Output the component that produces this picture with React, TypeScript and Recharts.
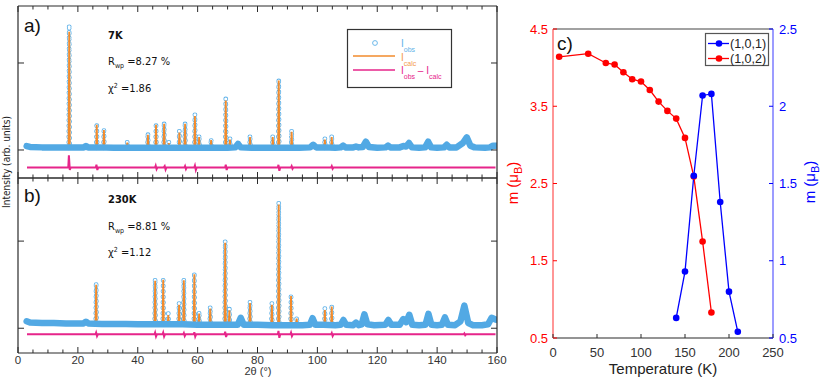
import React from 'react';
import { ComposedChart, Line, XAxis, YAxis } from 'recharts';

// ---------- panels a) and b): powder patterns ----------
// observed background band (2θ, intensity), 7 K
const bgA: [number, number][] = [
  [2.9, 4.5], [4, 3.5], [8, 3], [12, 3], [16, 3], [20, 3], [22, 3], [22.7, 4.5], [23.4, 3],
  [27, 3], [32, 2.5], [36, 2.5], [40, 2.5], [45, 2.5], [50, 2.5], [55, 2.5], [60, 2.5],
  [65, 2.5], [70, 2.5], [72.6, 3], [73.5, 7], [74.4, 3], [78, 2.5], [82, 2.5], [86, 2.5],
  [90, 2.5], [94, 2.5], [97.6, 3], [98.6, 6], [99.6, 3], [102, 3], [106, 2.5], [107.8, 3],
  [108.6, 5], [109.4, 3], [112, 3], [112.9, 4], [113.8, 3], [115.2, 3.5], [116.2, 9.5],
  [117.2, 3.5], [120, 2.5], [122.8, 3], [123.6, 5], [124.4, 3], [127.5, 3], [128.7, 4.5],
  [129.6, 4], [130.6, 8], [131.6, 3], [134, 2.5], [136, 3], [137, 9.5], [138, 3], [140, 2.5],
  [142.3, 3], [143.2, 6], [144.1, 3], [146.5, 3], [148.6, 8], [149.9, 14.5], [151.1, 5],
  [152.5, 3], [156, 2.5], [157.7, 3], [158.7, 5], [159.5, 5],
];
// sharp reflections: 2θ, observed top, calculated top
const peaksA: [number, number, number][] = [
  [17.1, 144, 136], [26.3, 31, 29], [28.7, 25, 23], [36.5, 10, 8.5], [43.4, 19.5, 17.5],
  [46.1, 31, 29], [48.8, 32, 30], [50.4, 9, 8], [53.9, 22, 20], [55.8, 32, 30],
  [59.1, 41, 39], [60.5, 17, 15], [64.5, 13, 11.5], [69.4, 59, 57], [70.8, 14, 12],
  [77.5, 17, 15], [85.1, 17, 15], [87.1, 82, 80], [91.4, 23, 21], [102.5, 14, 12],
  [104.8, 17, 15],
];
const diffA: [number, number][] = [
  [3, -20], [16.8, -20], [17.0, -6], [17.3, -23], [17.6, -20], [26.0, -20], [26.2, -17],
  [26.5, -23], [26.8, -20], [45.8, -20], [46, -18], [46.3, -22], [46.6, -20], [48.7, -20],
  [49, -18.5], [49.3, -22.5], [49.6, -20], [55.6, -20], [55.8, -18.5], [56.1, -22],
  [56.4, -20], [58.9, -20], [59.1, -18], [59.4, -23], [59.7, -20], [69.2, -20], [69.4, -17],
  [69.7, -23], [70, -20], [86.8, -20], [87, -17], [87.3, -24], [87.6, -20], [91.2, -20],
  [91.4, -18.5], [91.7, -21.5], [92, -20], [104.6, -20], [104.8, -18.5], [105.1, -21.5],
  [105.4, -20], [159.5, -20],
];
const baseA = 2.5;

// 230 K
const bgB: [number, number][] = [
  [2.9, 8], [4, 6.5], [8, 6], [12, 6], [16, 5.5], [20, 5.5], [21.9, 5.5], [22.7, 7.5],
  [23.5, 5.5], [28, 5], [32, 5], [36, 5], [40, 4.5], [45, 4.5], [50, 4.5], [55, 4.5],
  [60, 4], [65, 4], [70, 4], [73.4, 4], [74.4, 12], [75.4, 4], [80, 4], [85, 3.5], [90, 3.5],
  [95, 3.5], [97.5, 4], [98.4, 11.5], [99.3, 4], [102, 4], [106, 3.5], [107.8, 4],
  [108.7, 9.5], [109.6, 4], [112, 3.5], [112.9, 6.5], [113.8, 3.5], [114.8, 4.5],
  [115.7, 16], [116.7, 4.5], [119, 3.5], [122.7, 4], [123.7, 9.5], [124.7, 4], [127.5, 4],
  [128.7, 10.5], [129.7, 7], [130.7, 15.5], [131.7, 4], [134, 3.5], [136.1, 4],
  [137.1, 16.5], [138.1, 4], [140, 3.5], [141.6, 4], [142.6, 12.5], [143.6, 4], [146, 3.5],
  [147.8, 8], [149.1, 26], [150.4, 6], [152, 3.5], [155, 3.5], [157, 4.5], [158.2, 12],
  [159.5, 10],
];
const peaksB: [number, number, number][] = [
  [26.1, 52.5, 50], [45.8, 57, 54.5], [48.5, 58, 55.5], [50.2, 17, 15], [53.8, 29, 27],
  [55.4, 57, 55], [58.9, 64, 62], [60.5, 19, 17], [64.2, 24.5, 22.5], [69.2, 100, 98],
  [70.6, 22.6, 20.5], [77.5, 31, 29], [84.8, 29, 27], [87.1, 144.5, 142], [91.2, 39, 37],
  [93.1, 13, 11], [102.5, 23, 21], [104.8, 27, 25],
];
const diffB: [number, number][] = [
  [3, -7], [25.9, -7], [26.1, -5], [26.4, -9], [26.7, -7], [45.6, -7], [45.8, -5],
  [46.1, -9.5], [46.4, -7], [48.3, -7], [48.5, -5], [48.8, -9.5], [49.1, -7], [55.2, -7],
  [55.4, -5.5], [55.7, -9], [56, -7], [58.7, -7], [58.9, -4.5], [59.2, -9.5], [59.5, -7],
  [69, -7], [69.2, -4], [69.5, -10], [69.8, -7], [86.8, -7], [87, -3], [87.3, -11],
  [87.6, -7], [91, -7], [91.2, -5], [91.5, -9], [91.8, -7], [104.6, -7], [104.8, -5.5],
  [105.1, -9], [105.4, -7], [148.9, -7], [149.1, -6], [149.4, -8], [149.7, -7], [159.5, -7],
];
const baseB = 4.5;

const twoThetaTicks = [
  0, 5, 10, 15, 20, 25, 30, 35, 40, 45, 50, 55, 60, 65, 70, 75, 80, 85, 90, 95, 100, 105,
  110, 115, 120, 125, 130, 135, 140, 145, 150, 155, 160,
];
const intensityTicks = [0, 100];

// ---------- panel c): ordered moments ----------
const temp102 = [7, 40, 60, 70, 80, 90, 100, 110, 120, 130, 140, 150, 160, 170, 180];
const m102 = [4.14, 4.18, 4.06, 4.04, 3.94, 3.85, 3.82, 3.71, 3.56, 3.44, 3.34, 3.09, 2.59, 1.75, 0.83];
const temp101 = [140, 150, 160, 170, 180, 190, 200, 210];
const m101 = [0.63, 0.93, 1.55, 2.07, 2.08, 1.38, 0.8, 0.54];
const tempTicks = [0, 50, 100, 150, 200, 250];
const mTicksLeft = [0.5, 1.5, 2.5, 3.5, 4.5];
const mTicksRight = [0.5, 1, 1.5, 2, 2.5];

const OBS = '#5eb1e8';
const BAND = '#52a9e4';
const CALC = '#f28b2c';
const DIFF = '#e6258a';
const FRAME = '#2b2b2b';
const SANS = "'Liberation Sans', Arial, sans-serif";
const NARROW = "'Liberation Sans Narrow', 'DejaVu Sans Condensed', sans-serif";

const xy = (arr: [number, number][]) => arr.map(([x, y]) => ({ x, y }));
// each reflection as base -> top -> base, separated by a gap
const peakPath = (peaks: [number, number, number][], col: 1 | 2, base: number, w: number) =>
  peaks.flatMap((p) => [
    { x: p[0] - w, y: base },
    { x: p[0], y: p[col] },
    { x: p[0] + w, y: base },
    { x: p[0] + w + 0.05, y: null as number | null },
  ]);

// axes are 1px thick, so the plot box sits 1px inside the margins
const noop = { tickLine: false, tickSize: 0, tickMargin: 0 } as const;

const xTick = (dir: 1 | -1, label: boolean, major: number, minorLen: number, majorLen: number, fs: number, dy: number) =>
  (p: any) => {
    const v = p.payload.value;
    const isMaj = v % major === 0;
    return (
      <g>
        <line x1={p.x} x2={p.x} y1={p.y} y2={p.y + dir * (isMaj ? majorLen : minorLen)} stroke={FRAME} strokeWidth={1} />
        {label && isMaj ? (
          <text x={p.x} y={p.y + dy} textAnchor="middle" fontSize={fs} fontFamily={SANS} fill="#333">
            {v}
          </text>
        ) : null}
      </g>
    );
  };

const yTick = (dir: 1 | -1, len: number, color: string, label: boolean, fs = 13, gap = 5) => (p: any) => (
  <g>
    <line x1={p.x} x2={p.x + dir * len} y1={p.y} y2={p.y} stroke={color} strokeWidth={1} />
    {label ? (
      <text x={p.x - dir * gap} y={p.y} dy="0.36em" textAnchor={dir === 1 ? 'end' : 'start'} fontSize={fs} fontFamily={SANS} fill={color}>
        {p.payload.value}
      </text>
    ) : null}
  </g>
);

function Pattern(props: {
  bg: [number, number][];
  peaks: [number, number, number][];
  diff: [number, number][];
  base: number;
  domainY: [number, number];
  top: number;
  bottom: number;
  labels: boolean;
}) {
  const { bg, peaks, diff, base, domainY, top, bottom, labels } = props;
  const obs = peakPath(peaks, 1, base, 0.15);
  const calc = peakPath(peaks, 2, base, 0.2);
  return (
    <div style={{ position: 'absolute', left: 0, top: 0 }}>
      <ComposedChart width={831} height={380} margin={{ top: top - 1, left: 17, right: 333, bottom: bottom - 1 }}>
        <XAxis xAxisId="b" type="number" dataKey="x" domain={[0, 160]} allowDataOverflow ticks={twoThetaTicks} interval={0}
          height={1} {...noop} axisLine={{ stroke: FRAME, strokeWidth: 1.2 }} tick={xTick(-1, labels, 20, 3.5, 6, 11.5, 11)} />
        <XAxis xAxisId="t" orientation="top" type="number" dataKey="x" domain={[0, 160]} allowDataOverflow ticks={twoThetaTicks}
          interval={0} height={1} {...noop} axisLine={{ stroke: FRAME, strokeWidth: 1.2 }} tick={xTick(1, false, 20, 3.5, 6, 11, 0)} />
        <YAxis yAxisId="l" type="number" domain={domainY} allowDataOverflow ticks={intensityTicks} interval={0} width={1} {...noop}
          axisLine={{ stroke: FRAME, strokeWidth: 1.2 }} tick={yTick(1, 6, FRAME, false)} />
        <YAxis yAxisId="r" orientation="right" type="number" domain={domainY} allowDataOverflow ticks={intensityTicks} interval={0}
          width={1} {...noop} axisLine={{ stroke: FRAME, strokeWidth: 1.2 }} tick={yTick(-1, 6, FRAME, false)} />
        <Line xAxisId="b" yAxisId="l" data={obs} dataKey="y" stroke={OBS} strokeWidth={4.8} strokeDasharray="0 5.5"
          strokeLinecap="round" dot={false} connectNulls={false} isAnimationActive={false} />
        <Line xAxisId="b" yAxisId="l" data={obs} dataKey="y" stroke="#ffffff" strokeWidth={3.1} strokeDasharray="0 5.5"
          strokeLinecap="round" dot={false} connectNulls={false} isAnimationActive={false} />
        <Line xAxisId="b" yAxisId="l" data={calc} dataKey="y" stroke={CALC} strokeWidth={1.8} dot={false}
          connectNulls={false} isAnimationActive={false} />
        <Line xAxisId="b" yAxisId="l" data={xy(bg)} dataKey="y" stroke={BAND} strokeWidth={6.5} strokeLinejoin="round"
          strokeLinecap="round" dot={false} isAnimationActive={false} />
        <Line xAxisId="b" yAxisId="l" data={xy(diff)} dataKey="y" stroke={DIFF} strokeWidth={2} dot={false}
          isAnimationActive={false} />
      </ComposedChart>
    </div>
  );
}

function Moments() {
  const red = temp102.map((t, i) => ({ x: t, y: m102[i] }));
  const blue = temp101.map((t, i) => ({ x: t, y: m101[i] }));
  return (
    <div style={{ position: 'absolute', left: 0, top: 0 }}>
      <ComposedChart width={831} height={380} margin={{ top: 28, left: 552, right: 57, bottom: 41 }}>
        <XAxis xAxisId="b" type="number" dataKey="x" domain={[0, 250]} ticks={tempTicks} interval={0} height={1} {...noop}
          axisLine={{ stroke: FRAME, strokeWidth: 1.2 }} tick={xTick(-1, true, 50, 4, 4, 13, 18.5)} />
        <XAxis xAxisId="t" orientation="top" type="number" dataKey="x" domain={[0, 250]} ticks={tempTicks} interval={0}
          height={1} {...noop} axisLine={{ stroke: '#444', strokeWidth: 1.2 }} tick={xTick(1, false, 50, 4, 4, 13, 0)} />
        <YAxis yAxisId="l" type="number" domain={[0.5, 4.5]} ticks={mTicksLeft} interval={0} width={1} {...noop}
          axisLine={{ stroke: '#ff5050', strokeWidth: 1.2 }} tick={yTick(1, 4, '#ff0000', true, 13, 5)} />
        <YAxis yAxisId="r" orientation="right" type="number" domain={[0.5, 2.5]} ticks={mTicksRight} interval={0} width={1}
          {...noop} axisLine={{ stroke: '#5a5aff', strokeWidth: 1.2 }} tick={yTick(-1, 4, '#0000ff', true, 13, 6)} />
        <Line xAxisId="b" yAxisId="l" data={red} dataKey="y" stroke="#ff0000" strokeWidth={1.3}
          dot={{ r: 3.3, fill: '#ff0000', stroke: '#ff0000', strokeWidth: 0 }} isAnimationActive={false} />
        <Line xAxisId="b" yAxisId="r" data={blue} dataKey="y" stroke="#0000ff" strokeWidth={1.3}
          dot={{ r: 3.3, fill: '#0000ff', stroke: '#0000ff', strokeWidth: 0 }} isAnimationActive={false} />
      </ComposedChart>
    </div>
  );
}

function Annotations() {
  const sub = (s: string) => (
    <tspan fontSize={7} dy={2.5}>{s}</tspan>
  );
  return (
    <svg width={831} height={380} style={{ position: 'absolute', left: 0, top: 0 }}>
      <g fontFamily={SANS} fill="#111">
        <text x={24} y={32} fontSize={19}>a)</text>
        <text x={24} y={202} fontSize={19}>b)</text>
        <text x={557} y={50} fontSize={19}>c)</text>
      </g>
      <g fontFamily={NARROW} fill="#111" fontSize={11}>
        <text x={108} y={39} fontWeight="bold">7K</text>
        <text x={108} y={65}>R{sub('wp')}<tspan dy={-2.5}> =8.27 %</tspan></text>
        <text x={108} y={92}>χ<tspan fontSize={7} dy={-4}>2</tspan><tspan dy={4}> =1.86</tspan></text>
        <text x={108} y={203} fontWeight="bold">230K</text>
        <text x={108} y={230}>R{sub('wp')}<tspan dy={-2.5}> =8.81 %</tspan></text>
        <text x={108} y={256}>χ<tspan fontSize={7} dy={-4}>2</tspan><tspan dy={4}> =1.12</tspan></text>
        <text transform="translate(10,162) rotate(-90)" textAnchor="middle" fontSize={10} fill="#222">
          Intensity (arb. units)
        </text>
      </g>
      {/* legend, panel a */}
      <rect x={347.5} y={29.5} width={104} height={58} fill="#fff" stroke="#333" strokeWidth={1.2} />
      <circle cx={375} cy={43} r={2.4} fill="none" stroke={OBS} strokeWidth={0.9} />
      <line x1={353} x2={395} y1={56} y2={56} stroke={CALC} strokeWidth={1.5} />
      <line x1={353} x2={395} y1={70} y2={70} stroke={DIFF} strokeWidth={1.5} />
      <g fontFamily={SANS} fontSize={10}>
        <text x={401} y={47} fill={OBS}>I<tspan fontSize={7} dy={5}>obs</tspan></text>
        <text x={401} y={61} fill="#f39a4a">I<tspan fontSize={7} dy={5}>calc</tspan></text>
        <text x={401} y={74} fill={DIFF}>I<tspan fontSize={7} dy={5}>obs</tspan><tspan dy={-5}> – I</tspan><tspan fontSize={7} dy={5}>calc</tspan></text>
      </g>
      {/* x label, panels a/b */}
      <text x={258} y={375} textAnchor="middle" fontFamily={SANS} fontSize={11} fill="#333">2θ (°)</text>
      {/* panel c labels */}
      <g fontFamily={SANS} fontSize={15}>
        <text x={663} y={374} textAnchor="middle" fill="#222">Temperature (K)</text>
        <text transform="translate(518,183) rotate(-90)" textAnchor="middle" fill="#ff0000">
          m (μ<tspan fontSize={11} dy={4}>B</tspan><tspan dy={-4}>)</tspan>
        </text>
        <text transform="translate(815,182) rotate(-90)" textAnchor="middle" fill="#0000ff">
          m (μ<tspan fontSize={11} dy={4}>B</tspan><tspan dy={-4}>)</tspan>
        </text>
      </g>
      {/* legend, panel c */}
      <rect x={705.5} y={33.5} width={63} height={32} fill="#fff" stroke="#555" strokeWidth={1.2} />
      <line x1={708} x2={729} y1={43.5} y2={43.5} stroke="#0000ff" strokeWidth={1.3} />
      <circle cx={719} cy={43.5} r={3.3} fill="#0000ff" />
      <line x1={708} x2={729} y1={58.5} y2={58.5} stroke="#ff0000" strokeWidth={1.3} />
      <circle cx={719} cy={58.5} r={3.3} fill="#ff0000" />
      <g fontFamily={SANS} fontSize={12.5} fill="#222">
        <text x={730} y={48}>(1,0,1)</text>
        <text x={730} y={63}>(1,0,2)</text>
      </g>
    </svg>
  );
}

export default function App() {
  return (
    <div style={{ position: 'absolute', left: 0, top: 0, width: 831, height: 380, background: '#fff', overflow: 'hidden' }}>
      <Pattern bg={bgA} peaks={peaksA} diff={diffA} base={baseA} domainY={[-32.2, 165.5]} top={6} bottom={202} labels={false} />
      <Pattern bg={bgB} peaks={peaksB} diff={diffB} base={baseB} domainY={[-28.4, 172.4]} top={178} bottom={27} labels={true} />
      <Moments />
      <Annotations />
    </div>
  );
}
